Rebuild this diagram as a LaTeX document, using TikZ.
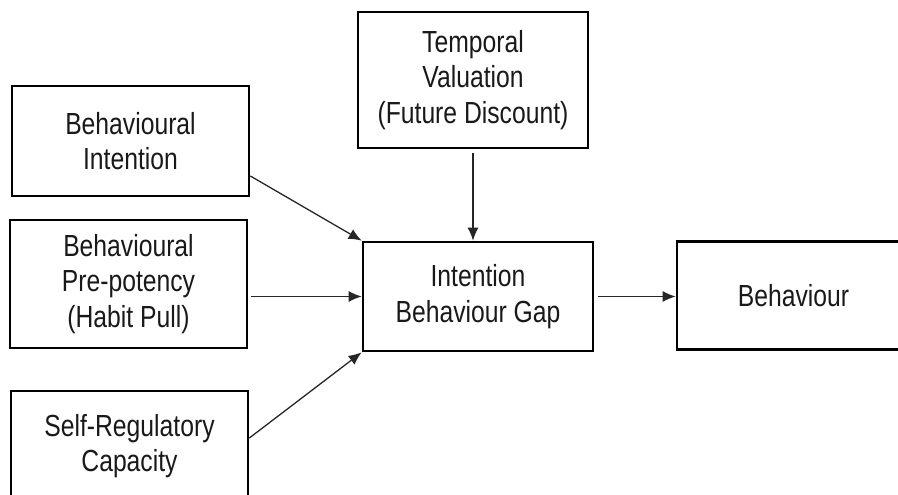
\documentclass[tikz,border=0pt]{standalone}
\usepackage{fontspec}
\setmainfont{Liberation Sans}[FakeStretch=0.81]
\usetikzlibrary{arrows.meta}

\tikzset{
  factor/.style={draw=black, line width=2.7pt, rectangle, align=center,
    inner sep=0pt, text=black!90,
    font=\fontsize{30.5}{35.5}\selectfont},
  link/.style={line width=1.3pt, draw=black!85,
    -{Latex[length=13pt,width=11pt]}}
}

\begin{document}
\begin{tikzpicture}[x=1pt, y=-1pt]
  \useasboundingbox (0,0) rectangle (898,495);
  \clip (0,0) rectangle (898,495);

  % predictors on the left
  \node[factor, minimum width=237pt, minimum height=110pt] (bi) at (130.5,141)
    {Behavioural\\Intention};
  \node[factor, minimum width=237pt, minimum height=128pt] (hp) at (128.5,284)
    {Behavioural\\Pre-potency\\(Habit Pull)};
  \node[factor, minimum width=237pt, minimum height=110pt] (sr) at (129.5,446)
    {Self-Regulatory\\Capacity};

  % moderator above
  \node[factor, minimum width=230pt, minimum height=136pt] (tv) at (473,80)
    {Temporal\\Valuation\\(Future Discount)};

  % central gap and outcome
  \node[factor, minimum width=230pt, minimum height=109pt] (gap) at (478,296.5)
    {Intention\\Behaviour Gap};
  \node[factor, minimum width=233pt, minimum height=108pt] (beh) at (793.5,295.5)
    {Behaviour};

  % connectors
  \draw[link] ([yshift=-35pt]bi.east) -- (gap.north west);
  \draw[link, shorten <=3pt] (hp.east |- gap.west) -- (gap.west);
  \draw[link] ([yshift=8pt]sr.east) -- (gap.south west);
  \draw[link, shorten <=4pt] (tv.south) -- (tv.south |- gap.north);
  \draw[link, shorten <=4pt] (gap.east) -- (beh.west |- gap.east);
\end{tikzpicture}
\end{document}
